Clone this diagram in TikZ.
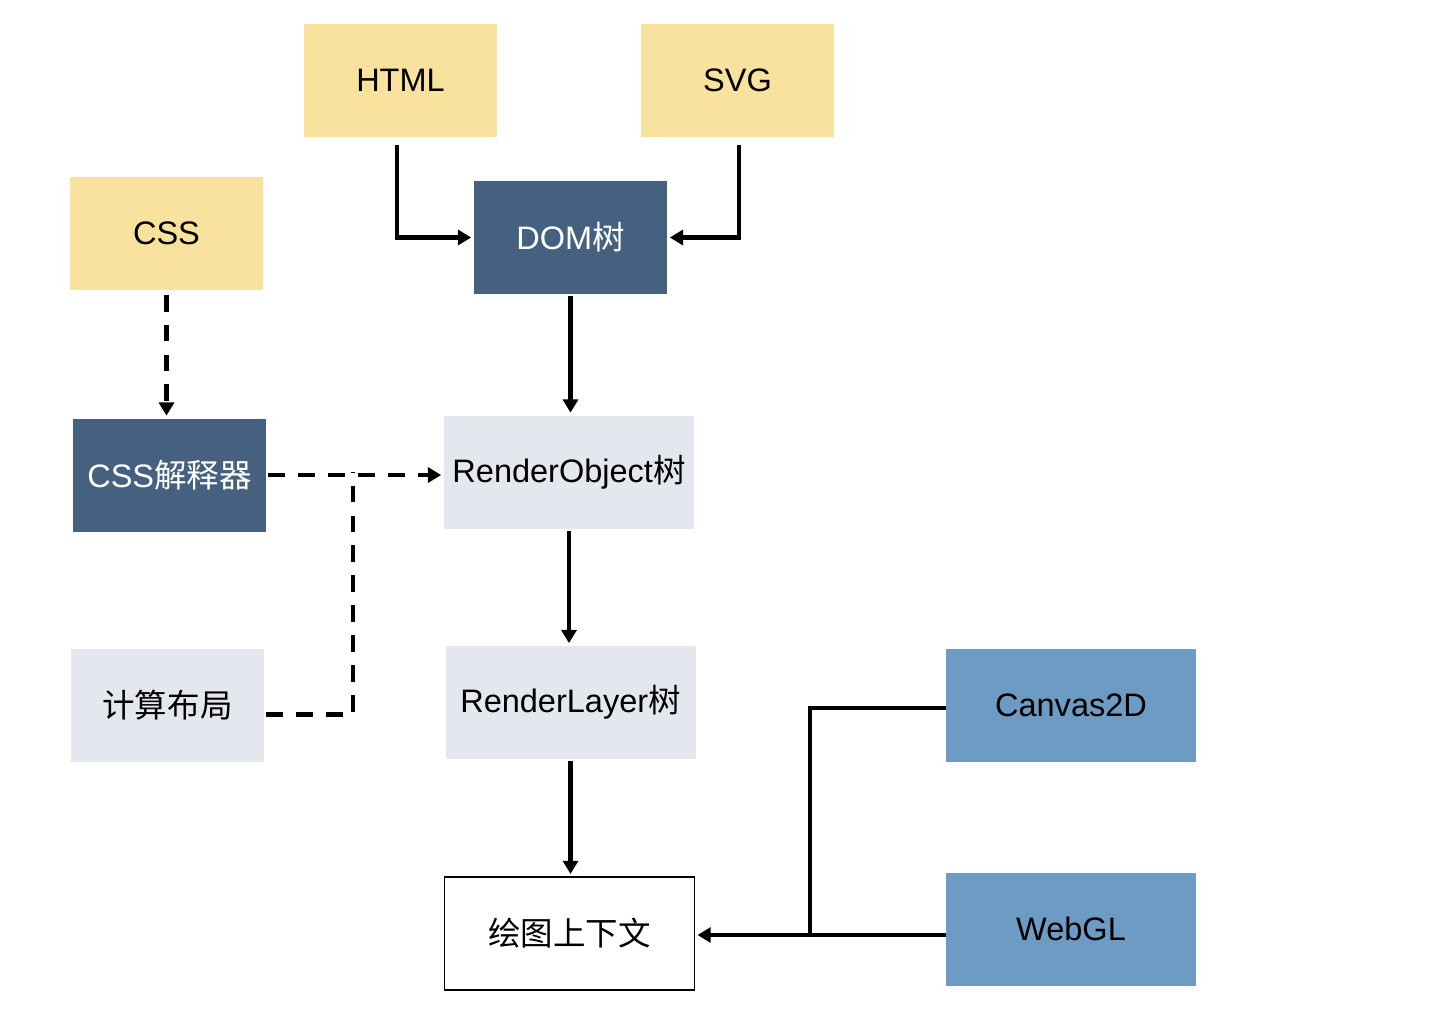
\documentclass[tikz,border=0pt]{standalone}
\usepackage{fontspec}
\setmainfont{Liberation Sans}
\newfontfamily\cjk{Noto Sans CJK SC}
\usetikzlibrary{arrows.meta,positioning}

\definecolor{srcyellow}{HTML}{F9E29E}
\definecolor{treeblue}{HTML}{45617F}
\definecolor{stepgrey}{HTML}{E4E7EE}
\definecolor{apiblue}{HTML}{6D9BC3}

\begin{document}
\begin{tikzpicture}[
    every node/.style={minimum width=3.86cm, minimum height=2.26cm, align=center, font=\fontsize{18.5}{22}\selectfont},
    src/.style={fill=srcyellow},
    tree/.style={fill=treeblue, text=white},
    stage/.style={fill=stepgrey, minimum width=5cm},
    api/.style={fill=apiblue, minimum width=5cm},
    ctxbox/.style={draw, line width=0.6pt, minimum width=5cm},
    arrow/.style={-{Triangle[length=7.5pt,width=8.5pt]}, line width=2.6pt, shorten <=0.04cm, shorten >=0.05cm},
    plain/.style={line width=2.6pt},
    dashline/.style={dash pattern=on 9.5pt off 7.5pt}
]
\useasboundingbox (0,0) rectangle (29.08,-20.6);

\node[src] (html) at (8.01,-1.61) {HTML};
\node[src] (svg) at (14.75,-1.61) {SVG};
\node[src] (css) at (3.33,-4.66) {CSS};
\node[tree] (dom) at (11.41,-4.75) {DOM{\cjk 树}};
\node[tree] (cssparser) at (3.39,-9.5) {CSS{\cjk 解释器}};
\node[stage] (renderobj) at (11.38,-9.44) {RenderObject{\cjk 树}};
\node[stage, minimum width=3.86cm] (layout) at (3.35,-14.11) {{\cjk 计算布局}};
\node[stage] (renderlayer) at (11.41,-14.05) {RenderLayer{\cjk 树}};
\node[api] (canvas) at (21.42,-14.11) {Canvas2D};
\node[api] (webgl) at (21.42,-18.58) {WebGL};
\node[ctxbox] (ctx) at (11.39,-18.67) {{\cjk 绘图上下文}};

\coordinate (merge) at (7.06,-9.44);
\coordinate (join) at (16.2,-18.7);

% sources into the DOM tree
\draw[arrow, shorten <=0.16cm] ([xshift=-0.07cm]html.south) |- (dom.west);
\draw[arrow, shorten <=0.16cm] ([xshift=0.03cm]svg.south) |- (dom.east);

% main pipeline
\draw[arrow] (dom.south) -- (dom.south |- renderobj.north);
\draw[arrow] (renderobj.south) -- (renderobj.south |- renderlayer.north);
\draw[arrow] (renderlayer.south) -- (renderlayer.south |- ctx.north);

% style and layout
\draw[arrow, dashline, shorten <=0.1cm] (css.south) -- (css.south |- cssparser.north);
\draw[arrow, dashline] (cssparser.east) -- (cssparser.east -| renderobj.west);
\draw[plain, dashline, shorten <=0.04cm] ([yshift=-0.18cm]layout.east) -| (merge);

% drawing APIs
\draw[arrow, shorten <=0pt] (webgl.west |- join) -- (join -| ctx.east);
\draw[plain] ([yshift=-0.05cm]canvas.west) -| (join);
\end{tikzpicture}
\end{document}
